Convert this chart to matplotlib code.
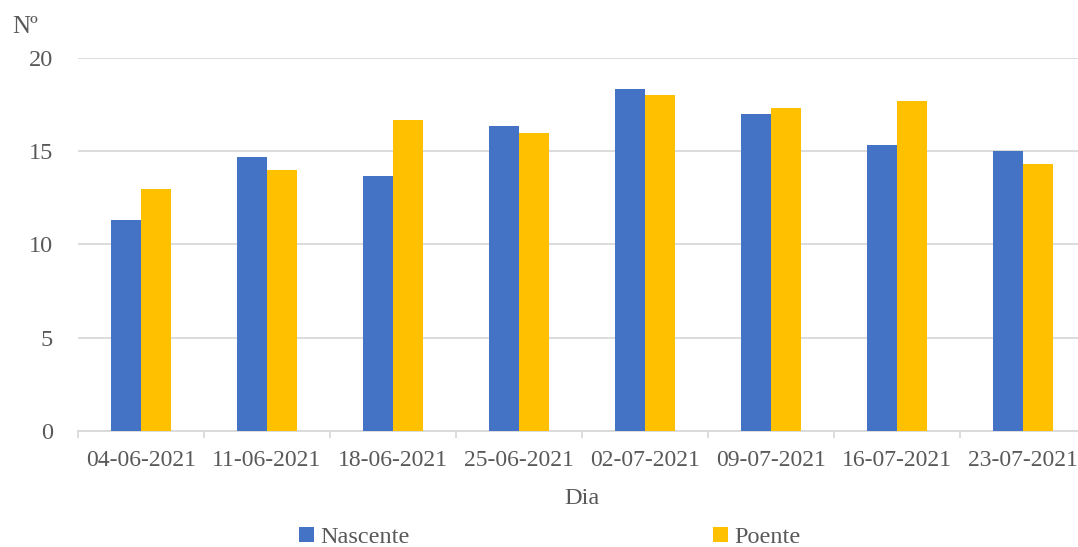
import numpy as np
import matplotlib.pyplot as plt
from matplotlib.ticker import FixedLocator

dias = ["04-06-2021", "11-06-2021", "18-06-2021", "25-06-2021",
        "02-07-2021", "09-07-2021", "16-07-2021", "23-07-2021"]
nascente = [11.33, 14.67, 13.67, 16.33, 18.33, 17.0, 15.33, 15.0]
poente = [13.0, 14.0, 16.67, 16.0, 18.0, 17.33, 17.67, 14.33]

plt.rcParams['font.family'] = ['Liberation Serif', 'DejaVu Serif']
plt.rcParams['font.size'] = 17.5
grey = '#595959'

fig = plt.figure(figsize=(10.78, 5.47), dpi=100)
ax = fig.add_axes([78 / 1078, 116 / 547, 1008 / 1078, 373 / 547])

x = np.arange(len(dias))
w = 0.237
ax.bar(x - w / 2, nascente, width=w, color='#4472C4', label='Nascente', zorder=3)
ax.bar(x + w / 2, poente, width=w, color='#FFC000', label='Poente', zorder=3)

ax.set_xlim(-0.5, len(dias) - 0.5)
ax.set_ylim(0, 20)
ax.set_yticks([0, 5, 10, 15, 20])
ax.yaxis.grid(True, color='#D9D9D9', linewidth=1.3, zorder=0)
ax.set_axisbelow(True)

for s in ['top', 'right', 'left']:
    ax.spines[s].set_visible(False)
ax.spines['bottom'].set_color('#D9D9D9')
ax.spines['bottom'].set_linewidth(1.3)

ax.set_xticks(x)
ax.set_xticklabels(dias, fontsize=17)
ax.xaxis.set_minor_locator(FixedLocator(np.arange(-0.5, len(dias), 1.0)))
ax.tick_params(axis='x', which='major', length=0, pad=14, colors=grey)
ax.tick_params(axis='x', which='minor', length=5, width=1.3, color='#D9D9D9')
ax.tick_params(axis='y', length=0, pad=18, colors=grey)

ax.set_xlabel('Dia', color=grey, labelpad=12)
fig.text(12 / 1078, 1 - 27 / 547, 'Nº', color=grey, va='center', ha='left', fontsize=18)

fig.legend(loc='center', bbox_to_anchor=(0.51, 0.018), ncol=2, frameon=False,
           handlelength=0.6, handleheight=0.6, handletextpad=0.25,
           columnspacing=12.5, labelcolor=grey)

fig.savefig('out.png', dpi=100)
